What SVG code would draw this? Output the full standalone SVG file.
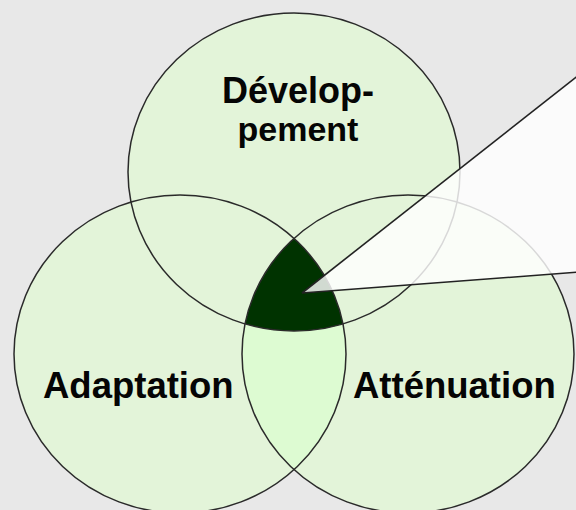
<svg xmlns="http://www.w3.org/2000/svg" width="576" height="510" viewBox="0 0 576 510">
<style>
.fillc{fill:#e3f4d9}
.ring{fill:none;stroke:#2a2a2a;stroke-width:1.5}
.lab{font-family:"Liberation Sans",Arial,sans-serif;font-weight:bold;font-size:36.5px;fill:#050505}
.edge{stroke:#222;stroke-width:1.6;fill:none}
</style>
<defs>
<clipPath id="cT"><ellipse cx="294" cy="172" rx="166" ry="159"/></clipPath>
<clipPath id="cL"><ellipse cx="180" cy="354" rx="166" ry="159"/></clipPath>
<clipPath id="cR"><ellipse cx="408" cy="354" rx="166" ry="159"/></clipPath>
</defs>
<rect width="576" height="510" fill="#e8e8e8"/>
<g id="fills">
<ellipse class="fillc" cx="294" cy="172" rx="166" ry="159"/>
<ellipse class="fillc" cx="180" cy="354" rx="166" ry="159"/>
<ellipse class="fillc" cx="408" cy="354" rx="166" ry="159"/>
<g clip-path="url(#cL)"><ellipse cx="408" cy="354" rx="166" ry="159" fill="#ddfbd2"/></g>
<g clip-path="url(#cL)"><g clip-path="url(#cR)"><ellipse cx="294" cy="172" rx="166" ry="159" fill="#003300"/></g></g>
</g>
<g id="developpement">
<ellipse class="ring" cx="294" cy="172" rx="166" ry="159"/>
<text class="lab" x="298" y="103" text-anchor="middle" style="font-size:36px">Dévelop-</text>
<text class="lab" x="298" y="141" text-anchor="middle" style="font-size:34px">pement</text>
</g>
<g id="adaptation">
<ellipse class="ring" cx="180" cy="354" rx="166" ry="159"/>
<text class="lab" x="43" y="398">Adaptation</text>
</g>
<g id="attenuation">
<ellipse class="ring" cx="408" cy="354" rx="166" ry="159"/>
<text class="lab" x="353" y="398">Atténuation</text>
</g>
<g id="callout">
<polygon points="302,293 580,74 580,272" fill="#ffffff" fill-opacity="0.82"/>
<line class="edge" x1="302" y1="293" x2="580" y2="74"/>
<line class="edge" x1="302" y1="293" x2="580" y2="272"/>
</g>
</svg>
